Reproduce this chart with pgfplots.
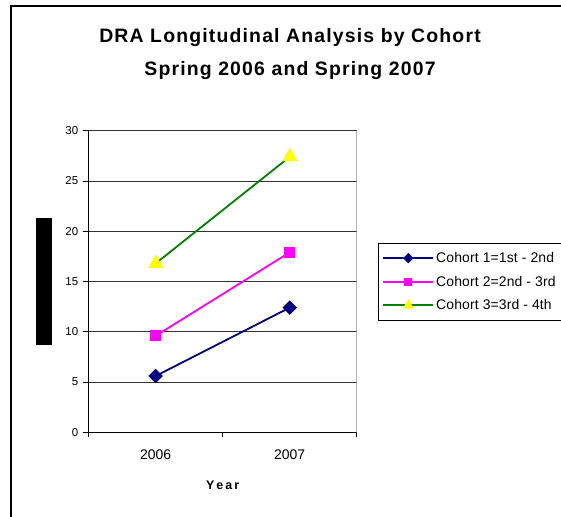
\documentclass[border=0pt]{standalone}
\usepackage{fontspec}
\setmainfont{Liberation Sans}
\newfontfamily\titlefont[LetterSpace=6]{Liberation Sans}
\newfontfamily\legfont[LetterSpace=1]{Liberation Sans}
\usepackage{pgfplots}
\pgfplotsset{compat=1.18}
\definecolor{c1navy}{RGB}{0,0,128}
\definecolor{c2mag}{RGB}{255,0,255}
\definecolor{c3green}{RGB}{0,128,0}
\definecolor{c3yel}{RGB}{255,255,0}
\begin{document}
\begin{tikzpicture}
\useasboundingbox (0bp,0bp) rectangle (561bp,517bp);
% chart frame
\draw[line width=1.2bp] (11bp,-5bp) -- (11bp,511bp) -- (575bp,511bp);
\begin{axis}[
    at={(88.7bp,84.7bp)}, anchor=south west,
    scale only axis, width=268bp, height=301.6bp,
    xmin=0.5, xmax=2.5, ymin=0, ymax=30,
    xtick={1,2}, xticklabels={2006,2007},
    minor xtick={0.5,1.5,2.5},
    ytick={0,5,...,30},
    axis x line*=bottom, axis y line*=left,
    axis line style={black, line width=1bp, -},
    tick align=outside,
    major x tick style={draw=none},
    minor tick length=5bp, major tick length=6bp,
    every tick/.style={black, line width=0.9bp},
    ymajorgrids, grid style={black!80, line width=0.9bp},
    /pgf/number format/assume math mode=true,
    /pgf/number format/1000 sep={},
    yticklabel style={font=\fontsize{11.5}{12}\selectfont, xshift=-1bp},
    xticklabel style={font=\fontsize{14}{15}\selectfont, yshift=-8bp},
    xlabel={\bfseries Y\,e\,a\,r},
    xlabel style={font=\fontsize{12.5}{14}\selectfont, at={(axis description cs:0.5,-0.176)}, anchor=center},
    legend style={at={(axis description cs:1.0795,0.6277)}, anchor=north west,
        draw=black, line width=0.8bp, font=\legfont\fontsize{14}{15}\selectfont,
        row sep=8bp, inner xsep=4bp, inner ysep=7bp},
    legend cell align=left,
    legend image code/.code={\draw[mark repeat=2,mark phase=2, every mark/.append style={scale=0.65}]
        plot coordinates {(0bp,0bp) (25bp,0bp) (50bp,0bp)};},
]
\draw[black!45, line width=0.9bp] (rel axis cs:1,0) -- (rel axis cs:1,1);
\addplot[c1navy, line width=1.8bp, mark=square*, mark size=4.2bp, mark options={fill=c1navy, rotate=45}]
    coordinates {(1,5.6) (2,12.4)};
\addlegendentry{Cohort 1=1st - 2nd}
\addplot[c2mag, line width=1.8bp, mark=square*, mark size=4.8bp, mark options={fill=c2mag}]
    coordinates {(1,9.6) (2,17.9)};
\addlegendentry{Cohort 2=2nd - 3rd}
\addplot[c3green, line width=1.8bp, mark=triangle*, mark size=7bp, mark options={fill=c3yel, draw=c3yel}]
    coordinates {(1,16.8) (2,27.4)};
\addlegendentry{Cohort 3=3rd - 4th}
\end{axis}
% title
\node[align=center, font=\titlefont\bfseries\fontsize{19.5}{34}\selectfont] at (290bp,463bp)
    {DRA Longitudinal Analysis by Cohort\\Spring 2006 and Spring 2007};
% redacted y label block
\fill[black] (36bp,172bp) rectangle (52bp,299bp);
\end{tikzpicture}
\end{document}
